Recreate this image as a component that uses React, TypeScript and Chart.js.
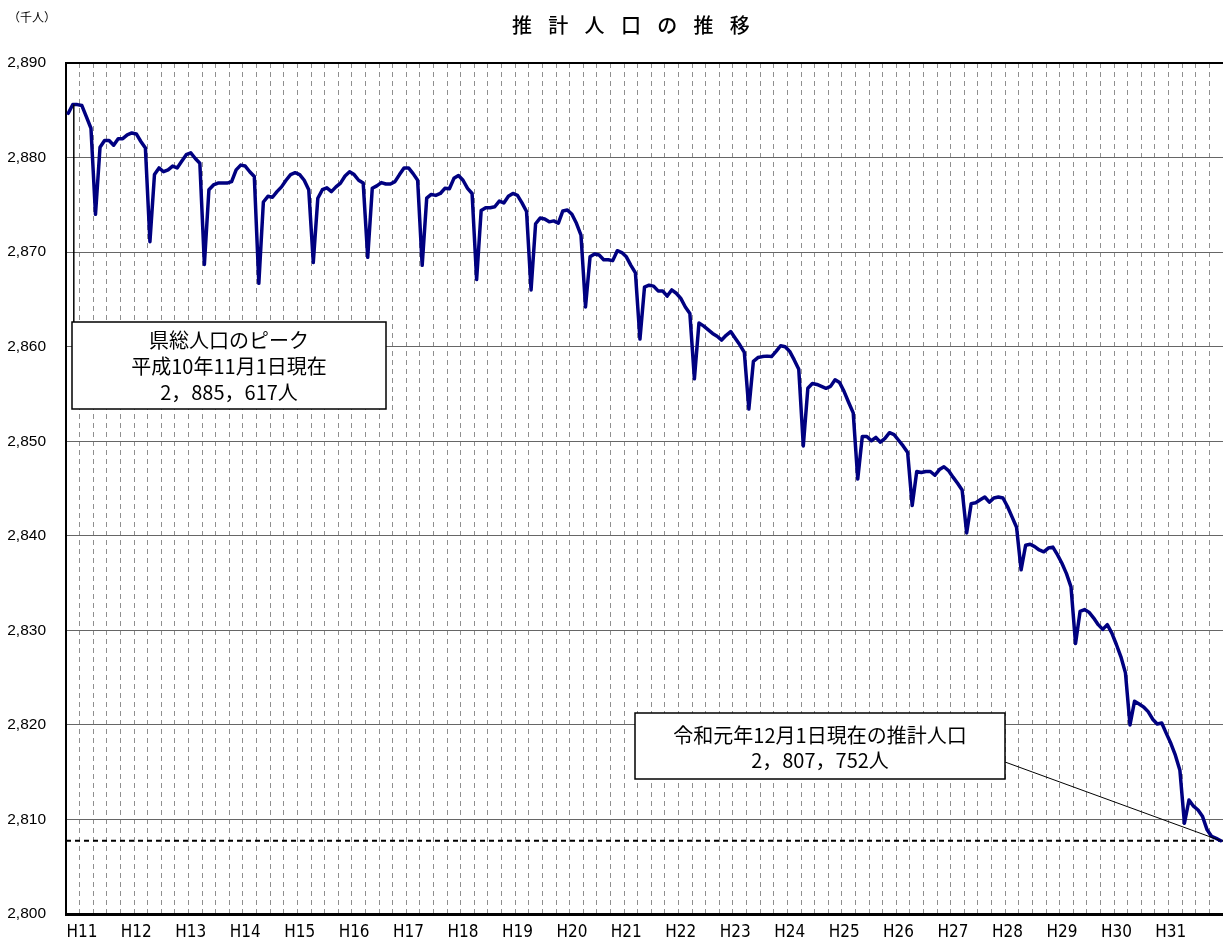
import React, { useEffect, useRef } from 'react';
import { Chart, registerables } from 'chart.js';

Chart.register(...registerables);

// ---- Data (thousand persons, monthly estimates, 1st of each month) ----
// Year labels used on the x axis (calendar years, Heisei era)
const YEAR_LABELS = ['H11', 'H12', 'H13', 'H14', 'H15', 'H16', 'H17', 'H18', 'H19', 'H20', 'H21', 'H22', 'H23', 'H24', 'H25', 'H26', 'H27', 'H28', 'H29', 'H30', 'H31'];
const FIRST_MONTHS_LABEL = 'H10';
const FIRST_MONTHS = [10, 11, 12];
const MONTHS = [1, 2, 3, 4, 5, 6, 7, 8, 9, 10, 11, 12];

const pop1998 = [2884.68, 2885.617, 2885.6];
const pop1999 = [2885.5, 2884.3, 2883.1, 2874.0, 2881.1, 2881.8, 2881.8, 2881.3, 2882.0, 2882.0, 2882.4, 2882.6];
const pop2000 = [2882.5, 2881.7, 2881.0, 2871.1, 2878.2, 2878.9, 2878.5, 2878.7, 2879.1, 2878.9, 2879.6, 2880.3];
const pop2001 = [2880.5, 2879.9, 2879.4, 2868.7, 2876.6, 2877.1, 2877.3, 2877.3, 2877.3, 2877.45, 2878.7, 2879.2];
const pop2002 = [2879.1, 2878.5, 2878.0, 2866.7, 2875.3, 2875.9, 2875.8, 2876.4, 2876.9, 2877.6, 2878.2, 2878.4];
const pop2003 = [2878.2, 2877.6, 2876.6, 2868.9, 2875.7, 2876.6, 2876.8, 2876.4, 2876.9, 2877.3, 2878.05, 2878.5];
const pop2004 = [2878.2, 2877.6, 2877.3, 2869.45, 2876.75, 2877.0, 2877.35, 2877.2, 2877.2, 2877.45, 2878.2, 2878.9];
const pop2005 = [2878.9, 2878.3, 2877.6, 2868.6, 2875.7, 2876.1, 2876.0, 2876.2, 2876.75, 2876.7, 2877.8, 2878.1];
const pop2006 = [2877.6, 2876.75, 2876.2, 2867.1, 2874.4, 2874.7, 2874.7, 2874.8, 2875.4, 2875.2, 2875.9, 2876.2];
const pop2007 = [2876.0, 2875.2, 2874.3, 2866.0, 2873.0, 2873.6, 2873.5, 2873.2, 2873.3, 2873.05, 2874.35, 2874.45];
const pop2008 = [2874.0, 2873.05, 2871.8, 2864.2, 2869.5, 2869.8, 2869.7, 2869.2, 2869.2, 2869.1, 2870.15, 2869.95];
const pop2009 = [2869.5, 2868.6, 2867.8, 2860.8, 2866.3, 2866.5, 2866.4, 2865.9, 2865.9, 2865.35, 2866.0, 2865.65];
const pop2010 = [2865.1, 2864.2, 2863.5, 2856.6, 2862.5, 2862.2, 2861.8, 2861.4, 2861.1, 2860.7, 2861.2, 2861.6];
const pop2011 = [2860.9, 2860.2, 2859.4, 2853.4, 2858.45, 2858.85, 2858.95, 2859.0, 2858.95, 2859.5, 2860.1, 2860.0];
const pop2012 = [2859.5, 2858.6, 2857.6, 2849.5, 2855.6, 2856.1, 2856.0, 2855.8, 2855.6, 2855.8, 2856.5, 2856.2];
const pop2013 = [2855.25, 2854.1, 2853.0, 2846.0, 2850.5, 2850.5, 2850.05, 2850.4, 2849.9, 2850.3, 2850.9, 2850.7];
const pop2014 = [2850.1, 2849.5, 2848.8, 2843.2, 2846.8, 2846.7, 2846.8, 2846.8, 2846.4, 2847.0, 2847.3, 2846.9];
const pop2015 = [2846.2, 2845.55, 2844.85, 2840.3, 2843.4, 2843.5, 2843.8, 2844.1, 2843.55, 2844.0, 2844.1, 2844.0];
const pop2016 = [2843.1, 2842.0, 2840.9, 2836.4, 2839.0, 2839.1, 2838.85, 2838.5, 2838.3, 2838.7, 2838.8, 2838.0];
const pop2017 = [2837.1, 2836.0, 2834.6, 2828.6, 2832.0, 2832.2, 2831.9, 2831.3, 2830.6, 2830.1, 2830.6, 2829.7];
const pop2018 = [2828.5, 2827.2, 2825.5, 2820.0, 2822.5, 2822.2, 2821.9, 2821.4, 2820.6, 2820.1, 2820.2, 2819.1];
const pop2019 = [2818.05, 2816.8, 2815.2, 2809.6, 2812.05, 2811.4, 2811.0, 2810.3, 2808.9, 2808.2, 2808.0, 2807.752];

const YEARLY_SERIES = [pop1999, pop2000, pop2001, pop2002, pop2003, pop2004, pop2005, pop2006, pop2007, pop2008, pop2009, pop2010, pop2011, pop2012, pop2013, pop2014, pop2015, pop2016, pop2017, pop2018, pop2019];

const PEAK_VALUE = 2885.617;
const PEAK_INDEX = 1;
const PRESENT_VALUE = 2807.752;

const Y_MIN = 2800;
const Y_MAX = 2890;
const Y_STEP = 10;

const TITLE = '推計人口の推移';
const UNIT = '（千人）';
const PEAK_NOTE = ['県総人口のピーク', '平成10年11月1日現在', '2，885，617人'];
const PRESENT_NOTE = ['令和元年12月1日現在の推計人口', '2，807，752人'];

// ---- Build category table ----
const categories: string[] = [];
const tickText: string[] = [];
FIRST_MONTHS.forEach((m) => {
  categories.push(`${FIRST_MONTHS_LABEL}.${m}`);
  tickText.push('');
});
YEAR_LABELS.forEach((y) => {
  MONTHS.forEach((m) => {
    categories.push(`${y}.${m}`);
    tickText.push(m === 1 ? y : '');
  });
});
const population: number[] = [pop1998, ...YEARLY_SERIES].flat();

const JP_FONT = '"Noto Sans CJK JP", "Noto Sans", sans-serif';

function drawBox(ctx: CanvasRenderingContext2D, x: number, y: number, w: number, h: number, lines: string[], firstOffset: number, gap: number) {
  ctx.save();
  ctx.fillStyle = '#ffffff';
  ctx.fillRect(x, y, w, h);
  ctx.strokeStyle = '#000';
  ctx.lineWidth = 1.5;
  ctx.strokeRect(x, y, w, h);
  ctx.fillStyle = '#000';
  ctx.font = `400 20px ${JP_FONT}`;
  ctx.textAlign = 'center';
  ctx.textBaseline = 'middle';
  lines.forEach((t, i) => {
    ctx.fillText(t, x + w / 2, y + firstOffset + i * gap);
  });
  ctx.restore();
}

const decorPlugin = {
  id: 'decor',
  beforeDatasetsDraw(chart: any) {
    const { ctx, chartArea, scales } = chart;
    const yp = scales.y.getPixelForValue(PRESENT_VALUE);
    ctx.save();
    ctx.strokeStyle = '#000';
    ctx.lineWidth = 2;
    ctx.setLineDash([5, 4]);
    ctx.beginPath();
    ctx.moveTo(chartArea.left, yp);
    ctx.lineTo(chartArea.right, yp);
    ctx.stroke();
    ctx.restore();
  },
  afterDraw(chart: any) {
    const { ctx, chartArea, scales } = chart;
    const xs = scales.x;
    const ys = scales.y;

    // top frame line
    ctx.save();
    ctx.strokeStyle = '#000';
    ctx.lineWidth = 2;
    ctx.beginPath();
    ctx.moveTo(chartArea.left - 1, chartArea.top);
    ctx.lineTo(chartArea.right, chartArea.top);
    ctx.stroke();
    ctx.restore();

    // title
    ctx.save();
    ctx.fillStyle = '#000';
    ctx.font = `500 20px ${JP_FONT}`;
    ctx.textAlign = 'center';
    ctx.textBaseline = 'middle';
    const chars = Array.from(TITLE);
    chars.forEach((c, i) => ctx.fillText(c, 522 + i * 36.3, 25));
    ctx.font = `400 12px ${JP_FONT}`;
    ctx.textAlign = 'left';
    ctx.fillText(UNIT, 8, 17);
    ctx.restore();

    // peak annotation
    const box1 = { x: chartArea.left + 6, y: 322, w: 314, h: 87 };
    const px = xs.getPixelForValue(PEAK_INDEX);
    const py = ys.getPixelForValue(PEAK_VALUE);
    ctx.save();
    ctx.strokeStyle = '#000';
    ctx.lineWidth = 1.5;
    ctx.beginPath();
    ctx.moveTo(px + 1, box1.y);
    ctx.lineTo(px + 1, py);
    ctx.stroke();
    ctx.restore();
    drawBox(ctx, box1.x, box1.y, box1.w, box1.h, PEAK_NOTE, 18, 26);

    // present annotation
    const box2 = { x: 635, y: 713, w: 370, h: 66 };
    const lx = xs.getPixelForValue(population.length - 1);
    const ly = ys.getPixelForValue(PRESENT_VALUE);
    ctx.save();
    ctx.strokeStyle = '#000';
    ctx.lineWidth = 1;
    ctx.beginPath();
    ctx.moveTo(box2.x + box2.w, 762);
    ctx.lineTo(lx, ly);
    ctx.stroke();
    ctx.restore();
    drawBox(ctx, box2.x, box2.y, box2.w, box2.h, PRESENT_NOTE, 22, 25);
  },
};

export default function App() {
  const canvasRef = useRef<HTMLCanvasElement | null>(null);

  useEffect(() => {
    document.body.style.margin = '0';
    const canvas = canvasRef.current;
    if (!canvas) return;
    const n = categories.length;
    const chart = new Chart(canvas, {
      type: 'line',
      data: {
        labels: categories,
        datasets: [
          {
            data: population,
            borderColor: '#000080',
            borderWidth: 3.5,
            pointRadius: 0,
            tension: 0,
            fill: false,
            borderJoinStyle: 'round',
            borderCapStyle: 'round',
          },
        ],
      },
      options: {
        animation: false,
        responsive: true,
        maintainAspectRatio: false,
        layout: { padding: { top: 63, left: 0, right: 0, bottom: 0 } },
        plugins: {
          legend: { display: false },
          title: { display: false },
          tooltip: { enabled: false },
        },
        scales: {
          x: {
            type: 'category',
            offset: true,
            grid: {
              offset: true,
              drawTicks: false,
              lineWidth: 1,
              color: (c: any) => (c.index > 0 && c.index < n && c.index % 3 === 0 ? '#8f8f8f' : 'rgba(0,0,0,0)'),
            },
            border: { display: true, color: '#000', width: 3, dash: [5, 4] },
            ticks: {
              autoSkip: false,
              maxRotation: 0,
              minRotation: 0,
              padding: 0,
              color: '#000',
              font: { family: '"Liberation Sans Narrow", "DejaVu Sans Condensed", sans-serif', size: 17, lineHeight: '38px' },
              callback: (_v: any, i: number) => tickText[i],
            },
            afterFit: (s: any) => {
              s.height = 30;
            },
          },
          y: {
            min: Y_MIN,
            max: Y_MAX,
            grid: { color: '#666', lineWidth: 1, drawTicks: false },
            border: { display: true, color: '#000', width: 2 },
            ticks: {
              stepSize: Y_STEP,
              padding: 20,
              color: '#000',
              font: { family: '"Liberation Sans", Arial, sans-serif', size: 15.5 },
              callback: (v: any) => Number(v).toLocaleString('en-US'),
            },
            afterFit: (s: any) => {
              s.width = 66;
            },
          },
        },
      },
      plugins: [decorPlugin],
    });
    return () => chart.destroy();
  }, []);

  return (
    <div style={{ width: 1223, height: 944, position: 'relative' }}>
      <canvas ref={canvasRef} />
    </div>
  );
}
